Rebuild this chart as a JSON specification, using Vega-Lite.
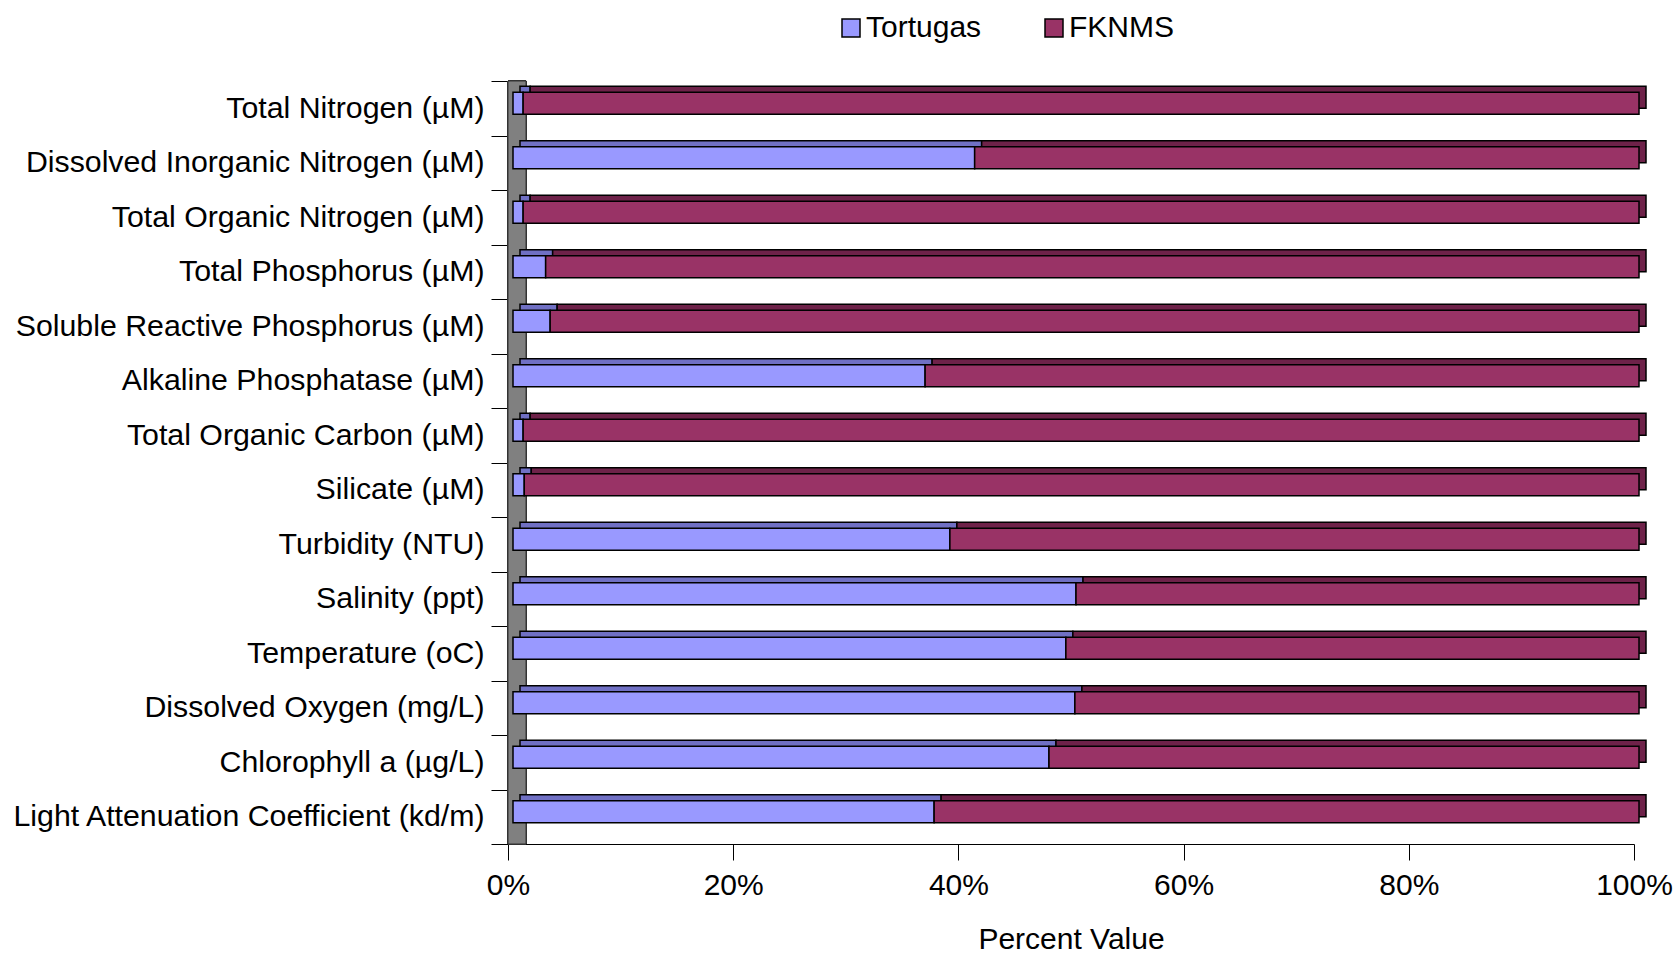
{
  "$schema": "https://vega.github.io/schema/vega-lite/v6.json",
  "width": 1126,
  "height": 763,
  "autosize": "none",
  "padding": {"left": 508, "top": 81, "right": 41, "bottom": 112},
  "background": "white",
  "config": {
    "view": {"stroke": null},
    "font": "Liberation Sans"
  },
  "data": {
    "values": [
      {"category": "Total Nitrogen (µM)", "series": "Tortugas", "pct": 0.9},
      {"category": "Total Nitrogen (µM)", "series": "FKNMS", "pct": 99.1},
      {"category": "Dissolved Inorganic Nitrogen (µM)", "series": "Tortugas", "pct": 41.0},
      {"category": "Dissolved Inorganic Nitrogen (µM)", "series": "FKNMS", "pct": 59.0},
      {"category": "Total Organic Nitrogen (µM)", "series": "Tortugas", "pct": 0.9},
      {"category": "Total Organic Nitrogen (µM)", "series": "FKNMS", "pct": 99.1},
      {"category": "Total Phosphorus (µM)", "series": "Tortugas", "pct": 2.9},
      {"category": "Total Phosphorus (µM)", "series": "FKNMS", "pct": 97.1},
      {"category": "Soluble Reactive Phosphorus (µM)", "series": "Tortugas", "pct": 3.3},
      {"category": "Soluble Reactive Phosphorus (µM)", "series": "FKNMS", "pct": 96.7},
      {"category": "Alkaline Phosphatase (µM)", "series": "Tortugas", "pct": 36.6},
      {"category": "Alkaline Phosphatase (µM)", "series": "FKNMS", "pct": 63.4},
      {"category": "Total Organic Carbon (µM)", "series": "Tortugas", "pct": 0.9},
      {"category": "Total Organic Carbon (µM)", "series": "FKNMS", "pct": 99.1},
      {"category": "Silicate (µM)", "series": "Tortugas", "pct": 1.0},
      {"category": "Silicate (µM)", "series": "FKNMS", "pct": 99.0},
      {"category": "Turbidity (NTU)", "series": "Tortugas", "pct": 38.8},
      {"category": "Turbidity (NTU)", "series": "FKNMS", "pct": 61.2},
      {"category": "Salinity (ppt)", "series": "Tortugas", "pct": 50.0},
      {"category": "Salinity (ppt)", "series": "FKNMS", "pct": 50.0},
      {"category": "Temperature (oC)", "series": "Tortugas", "pct": 49.1},
      {"category": "Temperature (oC)", "series": "FKNMS", "pct": 50.9},
      {"category": "Dissolved Oxygen (mg/L)", "series": "Tortugas", "pct": 49.9},
      {"category": "Dissolved Oxygen (mg/L)", "series": "FKNMS", "pct": 50.1},
      {"category": "Chlorophyll a (µg/L)", "series": "Tortugas", "pct": 47.6},
      {"category": "Chlorophyll a (µg/L)", "series": "FKNMS", "pct": 52.4},
      {"category": "Light Attenuation Coefficient (kd/m)", "series": "Tortugas", "pct": 37.4},
      {"category": "Light Attenuation Coefficient (kd/m)", "series": "FKNMS", "pct": 62.6}
    ]
  },
  "encoding": {
    "y": {
      "field": "category",
      "type": "nominal",
      "sort": null,
      "scale": {"paddingInner": 0, "paddingOuter": 0},
      "axis": {
        "title": null,
        "tickBand": "extent",
        "tickSize": 17,
        "tickColor": "black",
        "tickWidth": 1,
        "domain": false,
        "labelFontSize": 30.3,
        "labelColor": "black",
        "labelPadding": 7,
        "labelLimit": 700
      }
    }
  },
  "layer": [
    {
      "mark": {"type": "rect", "fill": "#808080", "stroke": "#333333", "strokeWidth": 1},
      "encoding": {
        "x": {"datum": 0, "type": "quantitative", "scale": {"domain": [0, 100], "nice": false}},
        "x2": {"datum": 1.6},
        "y": null
      }
    },
    {
      "mark": {"type": "bar", "height": 22, "xOffset": 12, "yOffset": -11, "stroke": "black", "strokeWidth": 1.5},
      "encoding": {
        "x": {"field": "pct", "type": "quantitative", "stack": "zero"},
        "detail": {"field": "series", "type": "nominal"},
        "order": {"field": "series", "sort": "descending"},
        "fill": {
          "condition": {"test": "datum.series === 'Tortugas'", "value": "#7070c4"},
          "value": "#6e2249"
        }
      }
    },
    {
      "mark": {"type": "bar", "height": 22, "xOffset": 5, "yOffset": -5, "stroke": "black", "strokeWidth": 1.5},
      "encoding": {
        "x": {
          "field": "pct",
          "type": "quantitative",
          "stack": "zero",
          "scale": {"domain": [0, 100], "nice": false},
          "axis": {
            "title": "Percent Value",
            "titleFontSize": 30,
            "titleFontWeight": "normal",
            "titleColor": "black",
            "titlePadding": 24,
            "values": [0, 20, 40, 60, 80, 100],
            "labelExpr": "datum.value + '%'",
            "labelFontSize": 30,
            "labelColor": "black",
            "labelFlush": false,
            "labelOverlap": false,
            "labelPadding": 10,
            "tickSize": 16,
            "tickColor": "black",
            "domainColor": "black",
            "grid": false
          }
        },
        "order": {"field": "series", "sort": "descending"},
        "color": {
          "field": "series",
          "type": "nominal",
          "scale": {"domain": ["Tortugas", "FKNMS"], "range": ["#9999ff", "#993366"]},
          "legend": {
            "title": null,
            "orient": "none",
            "direction": "horizontal",
            "legendX": 328,
            "legendY": -68,
            "symbolType": "square",
            "symbolSize": 324,
            "symbolStrokeColor": "black",
            "symbolStrokeWidth": 1.5,
            "labelFontSize": 30,
            "labelColor": "black",
            "labelOffset": 0,
            "columnPadding": 57
          }
        }
      }
    }
  ]
}
